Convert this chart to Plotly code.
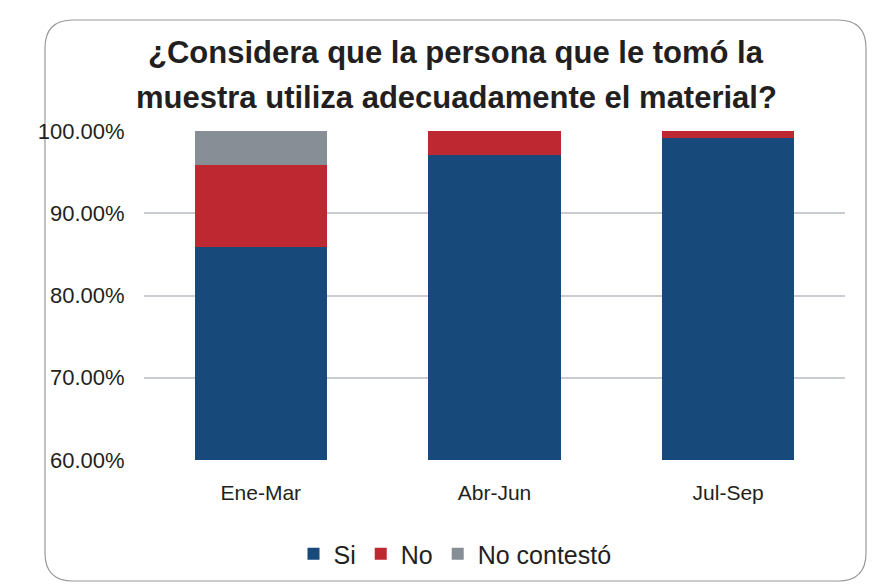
import plotly.graph_objects as go

periodos = ["Ene-Mar", "Abr-Jun", "Jul-Sep"]
si = [85.9, 97.1, 99.1]
no = [10.0, 2.9, 0.9]
no_contesto = [4.1, 0.0, 0.0]

y_ticks = [60, 70, 80, 90, 100]
y_labels = ["60.00%", "70.00%", "80.00%", "90.00%", "100.00%"]

AZUL = "#17497A"
ROJO = "#BE2830"
GRIS = "#878E96"
TEXTO = "#231F20"
FUENTE = "Liberation Sans, Arial"

# page body adds an 8px margin, so work in shifted pixel coords
OFF = 8
FW, FH = 880 - OFF, 584 - OFF
L, R, T, B = 144 - OFF, 845 - OFF, 131 - OFF, 460 - OFF
W, H = R - L, B - T


def px(x):
    return (x - OFF - L) / W


def py(y):
    return (B - (y - OFF)) / H


fig = go.Figure()
fig.add_trace(go.Bar(name="Si", x=periodos, y=si, marker_color=AZUL,
                     marker_line_width=0))
fig.add_trace(go.Bar(name="No", x=periodos, y=no, marker_color=ROJO,
                     marker_line_width=0))
fig.add_trace(go.Bar(name="No contestó", x=periodos, y=no_contesto,
                     marker_color=GRIS, marker_line_width=0))

# ── rounded frame ──────────────────────────────
x0, x1, y0, y1, r = 45, 866, 20, 581, 28
path = (
    f"M {px(x0 + r)},{py(y0)} L {px(x1 - r)},{py(y0)} "
    f"Q {px(x1)},{py(y0)} {px(x1)},{py(y0 + r)} "
    f"L {px(x1)},{py(y1 - r)} Q {px(x1)},{py(y1)} {px(x1 - r)},{py(y1)} "
    f"L {px(x0 + r)},{py(y1)} Q {px(x0)},{py(y1)} {px(x0)},{py(y1 - r)} "
    f"L {px(x0)},{py(y0 + r)} Q {px(x0)},{py(y0)} {px(x0 + r)},{py(y0)} Z"
)
fig.add_shape(type="path", path=path, xref="paper", yref="paper",
              line=dict(color="#9A9A9A", width=1.2), layer="below")

# ── title (two lines) ──────────────────────────
for txt, yy in [("¿Considera que la persona que le tomó la", 53),
                ("muestra utiliza adecuadamente el material?", 97)]:
    fig.add_annotation(x=px(456), y=py(yy), xref="paper", yref="paper",
                       text=f"<b>{txt}</b>", showarrow=False,
                       xanchor="center", yanchor="middle",
                       font=dict(size=31, color=TEXTO, family=FUENTE))

fig.update_layout(
    barmode="stack",
    bargap=0.435,
    width=FW, height=FH,
    margin=dict(l=L, r=FW - R, t=T, b=FH - B, autoexpand=False),
    plot_bgcolor="white", paper_bgcolor="white",
    font=dict(family=FUENTE, color=TEXTO),
    legend=dict(orientation="h", xref="container", yref="container",
                x=(455 - OFF) / FW, xanchor="center",
                y=1 - (554 - OFF) / FH, yanchor="middle",
                font=dict(size=25, color=TEXTO), traceorder="normal"),
    xaxis=dict(ticks="outside", ticklen=14, tickcolor="rgba(0,0,0,0)",
               tickfont=dict(size=21, color=TEXTO), showline=False),
    yaxis=dict(range=[60, 100], tickvals=y_ticks, ticktext=y_labels,
               showgrid=True, gridcolor="#C9CCD1", gridwidth=1.5,
               zeroline=False, showline=False,
               ticks="outside", ticklen=14, tickcolor="rgba(0,0,0,0)",
               tickfont=dict(size=22, color=TEXTO)),
)

fig.write_html("out.html")
